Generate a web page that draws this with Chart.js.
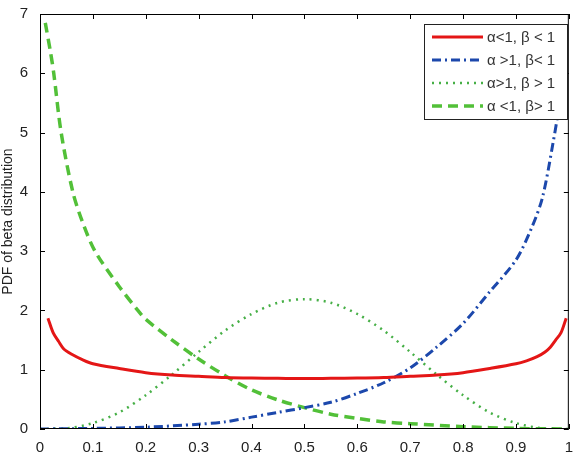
<!DOCTYPE html>
<html>
<head>
<meta charset="utf-8">
<script src="https://cdn.jsdelivr.net/npm/chart.js@4.4.0/dist/chart.umd.min.js"></script>
<style>
  html, body { margin: 0; padding: 0; background: #fff; }
  #wrap { width: 575px; height: 454px; }
</style>
</head>
<body>
<div id="wrap"><canvas id="grafico"></canvas></div>
<script>
// values
const xRed = [0.015, 0.025, 0.035, 0.045, 0.06, 0.08, 0.1, 0.15, 0.2, 0.25, 0.3, 0.35, 0.4, 0.45, 0.5, 0.55, 0.6, 0.65, 0.7, 0.75, 0.8, 0.85, 0.9, 0.92, 0.94, 0.955, 0.965, 0.975, 0.985, 0.995];
const yRed = [1.87, 1.62, 1.48, 1.35, 1.26, 1.17, 1.1, 1.02, 0.95, 0.91, 0.89, 0.87, 0.86, 0.855, 0.85, 0.855, 0.86, 0.87, 0.89, 0.91, 0.95, 1.02, 1.1, 1.15, 1.22, 1.3, 1.38, 1.5, 1.62, 1.87];

const xBlue = [0, 0.1, 0.2, 0.3, 0.35, 0.4, 0.45, 0.5, 0.55, 0.6, 0.65, 0.7, 0.75, 0.8, 0.85, 0.9, 0.93, 0.95, 0.97, 0.98, 0.99];
const yBlue = [0, 0.01, 0.03, 0.08, 0.12, 0.2, 0.28, 0.36, 0.45, 0.6, 0.78, 1.03, 1.38, 1.78, 2.31, 2.85, 3.4, 3.9, 4.82, 5.4, 6.8];

const xDotted = [0, 0.05, 0.1, 0.15, 0.2, 0.25, 0.3, 0.35, 0.4, 0.45, 0.5, 0.55, 0.6, 0.65, 0.7, 0.75, 0.8, 0.85, 0.9, 0.95, 1];
const yDotted = [0, 0.01, 0.1, 0.28, 0.57, 0.92, 1.3, 1.66, 1.94, 2.13, 2.19, 2.13, 1.94, 1.66, 1.3, 0.92, 0.57, 0.28, 0.1, 0.01, 0];

const xDashed = [0.01, 0.02, 0.026, 0.04, 0.062, 0.08, 0.104, 0.15, 0.185, 0.2, 0.25, 0.3, 0.35, 0.4, 0.45, 0.5, 0.55, 0.6, 0.65, 0.7, 0.8, 0.9, 1];
const yDashed = [6.85, 6.35, 6.0, 5.0, 4.0, 3.5, 3.0, 2.4, 2.0, 1.85, 1.5, 1.18, 0.9, 0.66, 0.49, 0.36, 0.25, 0.18, 0.12, 0.09, 0.04, 0.01, 0];

const legendLabels = ['α<1, β < 1', 'α >1, β< 1', 'α>1, β > 1', 'α <1, β> 1'];
const xTicks = ['0', '0.1', '0.2', '0.3', '0.4', '0.5', '0.6', '0.7', '0.8', '0.9', '1'];
const yTicks = ['0', '1', '2', '3', '4', '5', '6', '7'];

const vermelho = 'rgb(228,22,22)';
const azul = 'rgb(28,72,172)';
const verdePont = 'rgb(70,175,70)';
const verdeTrac = 'rgb(82,192,56)';

function pares(xs, ys) {
    return xs.map((x, i) => ({ x: x, y: ys[i] }));
}

// MATLAB-like box with ticks pointing inward, plus legend drawn over the lines
const caixaMatlab = {
    id: 'caixaMatlab',
    afterDraw(chart) {
        const c = chart.ctx;
        const a = chart.chartArea;
        const sx = chart.scales.x;
        const sy = chart.scales.y;
        c.save();
        c.strokeStyle = '#000';
        c.lineWidth = 1;
        c.strokeRect(a.left + 0.5, a.top + 0.5, a.right - a.left - 1, a.bottom - a.top - 1);
        c.beginPath();
        sx.ticks.forEach(t => {
            const px = Math.round(sx.getPixelForValue(t.value)) + 0.5;
            c.moveTo(px, a.bottom); c.lineTo(px, a.bottom - 5);
            c.moveTo(px, a.top); c.lineTo(px, a.top + 5);
        });
        sy.ticks.forEach(t => {
            const py = Math.round(sy.getPixelForValue(t.value)) + 0.5;
            c.moveTo(a.left, py); c.lineTo(a.left + 5, py);
            c.moveTo(a.right, py); c.lineTo(a.right - 5, py);
        });
        c.stroke();

        // legend
        const lx = 424, ly = 24, lw = 143, lh = 95;
        c.fillStyle = '#fff';
        c.fillRect(lx, ly, lw, lh);
        c.strokeStyle = '#222';
        c.strokeRect(lx + 0.5, ly + 0.5, lw, lh);
        c.font = '15px "Liberation Sans", Arial, sans-serif';
        c.textBaseline = 'middle';
        chart.data.datasets.forEach((ds, i) => {
            const yy = ly + 13 + i * 23;
            c.strokeStyle = ds.borderColor;
            c.lineWidth = ds.borderWidth;
            c.setLineDash(ds.borderDash || []);
            c.beginPath();
            c.moveTo(lx + 8, yy);
            c.lineTo(lx + 59, yy);
            c.stroke();
            c.setLineDash([]);
            c.fillStyle = '#333';
            c.fillText(legendLabels[i], lx + 63, yy + 1);
        });
        c.restore();
    }
};

const ctx = document.getElementById('grafico').getContext('2d');

new Chart(ctx, {
    type: 'line',
    data: {
        datasets: [{
            label: legendLabels[0],
            data: pares(xRed, yRed),
            borderColor: vermelho,
            borderWidth: 3,
            pointRadius: 0,
            tension: 0.3
        }, {
            label: legendLabels[1],
            data: pares(xBlue, yBlue),
            borderColor: azul,
            borderWidth: 3,
            borderDash: [9, 4, 2, 4],
            pointRadius: 0,
            tension: 0.3
        }, {
            label: legendLabels[2],
            data: pares(xDotted, yDotted),
            borderColor: verdePont,
            borderWidth: 2.5,
            borderDash: [2, 5],
            pointRadius: 0,
            tension: 0.3
        }, {
            label: legendLabels[3],
            data: pares(xDashed, yDashed),
            borderColor: verdeTrac,
            borderWidth: 3.5,
            borderDash: [10, 6],
            pointRadius: 0,
            tension: 0.3
        }]
    },
    options: {
        responsive: true,
        maintainAspectRatio: false,
        animation: false,
        layout: { padding: { top: 14, right: 2, left: 0, bottom: 0 } },
        plugins: {
            legend: { display: false },
            tooltip: { enabled: false }
        },
        scales: {
            x: {
                type: 'linear',
                min: 0,
                max: 1,
                border: { display: false },
                grid: { display: false },
                ticks: {
                    stepSize: 0.1,
                    color: '#222',
                    padding: 2,
                    font: { size: 15, family: '"Liberation Sans", Arial, sans-serif' },
                    callback: (v, i) => xTicks[i]
                },
                afterFit(scale) { scale.height = 25; }
            },
            y: {
                min: 0,
                max: 7,
                border: { display: false },
                grid: { display: false },
                ticks: {
                    stepSize: 1,
                    color: '#222',
                    padding: 4,
                    font: { size: 15, family: '"Liberation Sans", Arial, sans-serif' },
                    callback: (v, i) => yTicks[i]
                },
                title: {
                    display: true,
                    text: 'PDF of beta distribution',
                    color: '#222',
                    padding: { top: 0, bottom: 1 },
                    font: { size: 14, family: '"Liberation Sans", Arial, sans-serif' }
                },
                afterFit(scale) { scale.width = 40; }
            }
        }
    },
    plugins: [caixaMatlab]
});
</script>
</body>
</html>
